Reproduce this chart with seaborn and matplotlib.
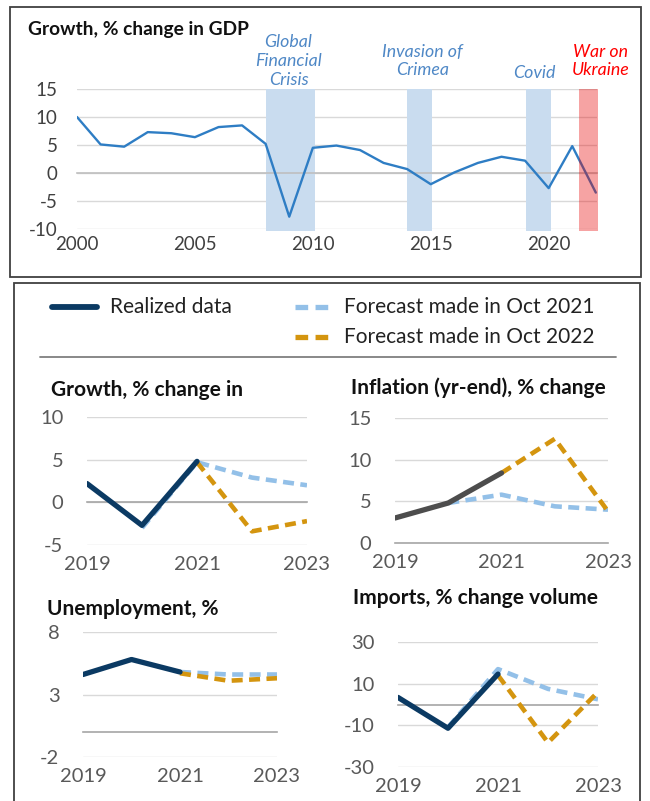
import matplotlib
matplotlib.use("Agg")
import matplotlib.pyplot as plt
import seaborn as sns
import pandas as pd
from matplotlib.patches import Rectangle
from matplotlib.lines import Line2D

# ---------------- data ----------------
gdp_years = list(range(2000, 2023))
gdp_growth = [10.0, 5.1, 4.7, 7.3, 7.1, 6.4, 8.2, 8.5, 5.2, -7.8, 4.5, 4.9, 4.1,
              1.8, 0.7, -2.0, 0.1, 1.8, 2.9, 2.2, -2.7, 4.8, -3.5]
event_labels = ["Global\nFinancial\nCrisis", "Invasion of\nCrimea", "Covid", "War on\nUkraine"]
event_start = [2008.0, 2014.0, 2019.05, 2021.3]
event_end = [2010.1, 2015.05, 2020.1, 2022.1]
event_colors = ["#c9dcef", "#c9dcef", "#c9dcef", "#e80000"]
event_alpha = [1.0, 1.0, 1.0, 0.36]
event_z = [1, 1, 1, 4]
event_text_colors = ["#4f88c6", "#4f88c6", "#4f88c6", "#ff0000"]

years = [2019, 2020, 2021, 2022, 2023]
growth_real = [2.2, -2.7, 4.8, None, None]
growth_f21 = [None, -3.0, 4.7, 2.9, 2.0]
growth_f22 = [None, None, 4.7, -3.4, -2.2]

infl_real = [3.0, 4.8, 8.4, None, None]
infl_f21 = [None, 4.8, 5.8, 4.4, 4.0]
infl_f22 = [None, None, 8.4, 12.5, 3.8]

unemp_real = [4.6, 5.8, 4.8, None, None]
unemp_f21 = [None, None, 4.8, 4.6, 4.6]
unemp_f22 = [None, None, 4.7, 4.1, 4.3]

imp_real = [3.4, -11.4, 14.6, None, None]
imp_f21 = [None, -11.0, 17.0, 7.5, 2.5]
imp_f22 = [None, None, 14.0, -18.3, 6.0]

legend_labels = ["Realized data", "Forecast made in Oct 2021", "Forecast made in Oct 2022"]

# ---------------- style ----------------
sns.set_theme(style="white")
plt.rcParams["font.family"] = ["Lato", "DejaVu Sans"]
plt.rcParams["axes.unicode_minus"] = False

W, H = 650, 801
fig = plt.figure(figsize=(W / 100, H / 100), dpi=100)
fig.patch.set_facecolor("white")

NAVY = "#0b3a63"
LBLUE = "#93c0e8"
GOLD = "#d4950f"
DGRAY = "#4d4d4d"
GRID = "#d9d9d9"
AXIS = "#a6a6a6"


def rect(x0, x1, ytop, ybot):
    return [x0 / W, 1 - ybot / H, (x1 - x0) / W, (ybot - ytop) / H]


def fx(x):
    return x / W


def fy(y):
    return 1 - y / H


# outer boxes
fig.add_artist(Rectangle((fx(10), fy(277)), fx(631), (277 - 7) / H, fill=False,
                         edgecolor="#404040", lw=1.3, transform=fig.transFigure))
fig.add_artist(Rectangle((fx(14), fy(810)), fx(626), (810 - 283) / H, fill=False,
                         edgecolor="#404040", lw=1.3, transform=fig.transFigure, clip_on=False))

# ---------------- top panel ----------------
ax0 = fig.add_axes(rect(77, 597, 89, 229))
for s, e, c, a, z in zip(event_start, event_end, event_colors, event_alpha, event_z):
    ax0.axvspan(s, e, ymin=-0.012, ymax=1, color=c, alpha=a, lw=0, zorder=z, clip_on=False)
df0 = pd.DataFrame({"year": gdp_years, "growth": gdp_growth})
sns.lineplot(data=df0, x="year", y="growth", ax=ax0, color="#2e7dc4", lw=1.7, zorder=3)
ax0.set_xlim(2000, 2022.05)
ax0.set_ylim(-10, 15)
ax0.set_yticks([15, 10, 5, 0, -5, -10])
ax0.yaxis.grid(True, color=GRID, lw=1)
ax0.set_axisbelow(True)
for sp in ["top", "right", "left"]:
    ax0.spines[sp].set_visible(False)
ax0.spines["bottom"].set_position(("data", 0))
ax0.spines["bottom"].set_color("#bfbfbf")
ax0.spines["bottom"].set_linewidth(1.2)
ax0.set_xticks(gdp_years)
ax0.tick_params(axis="x", direction="out", length=6, color="#bfbfbf", width=1, labelbottom=False)
ax0.tick_params(axis="y", length=0, pad=14, labelsize=13.5, labelcolor="#404040")
sec0 = ax0.secondary_xaxis("bottom")
sec0.set_xticks([2000, 2005, 2010, 2015, 2020])
sec0.tick_params(length=0, pad=5, labelsize=13.5, labelcolor="#404040")
sec0.spines["bottom"].set_visible(False)
ax0.set_xlabel("")
ax0.set_ylabel("")
sec0.set_xlabel("")
text_x = [2008.97, 2014.66, 2019.39, 2022.2]
text_y = [1.2, 1.2, 1.115, 1.2]
for lab, x, y, c in zip(event_labels, text_x, text_y, event_text_colors):
    ax0.text(x, y, lab, transform=ax0.get_xaxis_transform(), ha="center", va="center",
             fontsize=12.8, style="italic", color=c, linespacing=1.2)
fig.text(fx(28), fy(30), "Growth, % change in GDP", fontsize=13.8, fontweight="bold",
         ha="left", va="center", color="#111111")

# ---------------- legend ----------------
fig.add_artist(Line2D([fx(52), fx(97)], [fy(307), fy(307)], color=NAVY, lw=4.2,
                      transform=fig.transFigure))
fig.add_artist(Line2D([fx(295), fx(331)], [fy(307), fy(307)], color=LBLUE, lw=3.8,
                      dashes=(2.4, 1.4), transform=fig.transFigure))
fig.add_artist(Line2D([fx(295), fx(331)], [fy(337), fy(337)], color=GOLD, lw=3.8,
                      dashes=(2.4, 1.4), transform=fig.transFigure))
fig.text(fx(110), fy(307), legend_labels[0], fontsize=15, va="center", ha="left", color="#222222")
fig.text(fx(344), fy(307), legend_labels[1], fontsize=15, va="center", ha="left", color="#222222")
fig.text(fx(344), fy(337), legend_labels[2], fontsize=15, va="center", ha="left", color="#222222")
fig.add_artist(Line2D([fx(40), fx(616)], [fy(357), fy(357)], color="#7f7f7f", lw=1.3,
                      transform=fig.transFigure))


# ---------------- small panels ----------------
def small_panel(r, title, title_xy, real, f21, f22, ylim, yticks, real_color=NAVY):
    ax = fig.add_axes(r)
    df = pd.DataFrame({"year": years, "real": real, "f21": f21, "f22": f22})
    for col, c, z in [("f21", LBLUE, 3), ("f22", GOLD, 4)]:
        d = df.dropna(subset=[col])
        sns.lineplot(data=d, x="year", y=col, ax=ax, color=c, lw=3.3, zorder=z)
        ax.lines[-1].set_dashes((2.4, 1.4))
    d = df.dropna(subset=["real"])
    sns.lineplot(data=d, x="year", y="real", ax=ax, color=real_color, lw=3.8, zorder=5)
    ax.set_xlim(2019, 2023)
    ax.set_ylim(*ylim)
    ax.set_yticks(yticks)
    ax.yaxis.grid(True, color=GRID, lw=1)
    ax.set_axisbelow(True)
    for sp in ["top", "right", "left"]:
        ax.spines[sp].set_visible(False)
    ax.spines["bottom"].set_position(("data", 0))
    ax.spines["bottom"].set_color(AXIS)
    ax.spines["bottom"].set_linewidth(1.2)
    ax.set_xticks(years)
    ax.tick_params(axis="x", direction="out", length=7, color=AXIS, width=1.2, labelbottom=False)
    ax.tick_params(axis="y", length=0, pad=17, labelsize=14.5, labelcolor="#595959")
    sec = ax.secondary_xaxis("bottom")
    sec.set_xticks([2019, 2021, 2023])
    sec.tick_params(length=0, pad=8, labelsize=14.5, labelcolor="#595959")
    sec.spines["bottom"].set_visible(False)
    ax.set_xlabel("")
    ax.set_ylabel("")
    fig.text(fx(title_xy[0]), fy(title_xy[1]), title, fontsize=15, fontweight="bold",
             ha="left", va="center", color="#111111")
    return ax


small_panel(rect(87, 307, 417, 545), "Growth, % change in", (51, 390),
            growth_real, growth_f21, growth_f22, (-5, 10), [10, 5, 0, -5])
small_panel(rect(395, 608, 418, 543), "Inflation (yr-end), % change", (351, 388),
            infl_real, infl_f21, infl_f22, (0, 15), [15, 10, 5, 0], real_color=DGRAY)
small_panel(rect(83, 277, 632, 757), "Unemployment, %", (47, 609),
            unemp_real, unemp_f21, unemp_f22, (-2, 8), [8, 3, -2])
small_panel(rect(398, 598, 642, 767), "Imports, % change volume", (353, 598),
            imp_real, imp_f21, imp_f22, (-30, 30), [30, 10, -10, -30])

fig.savefig("out.png", dpi=100)
